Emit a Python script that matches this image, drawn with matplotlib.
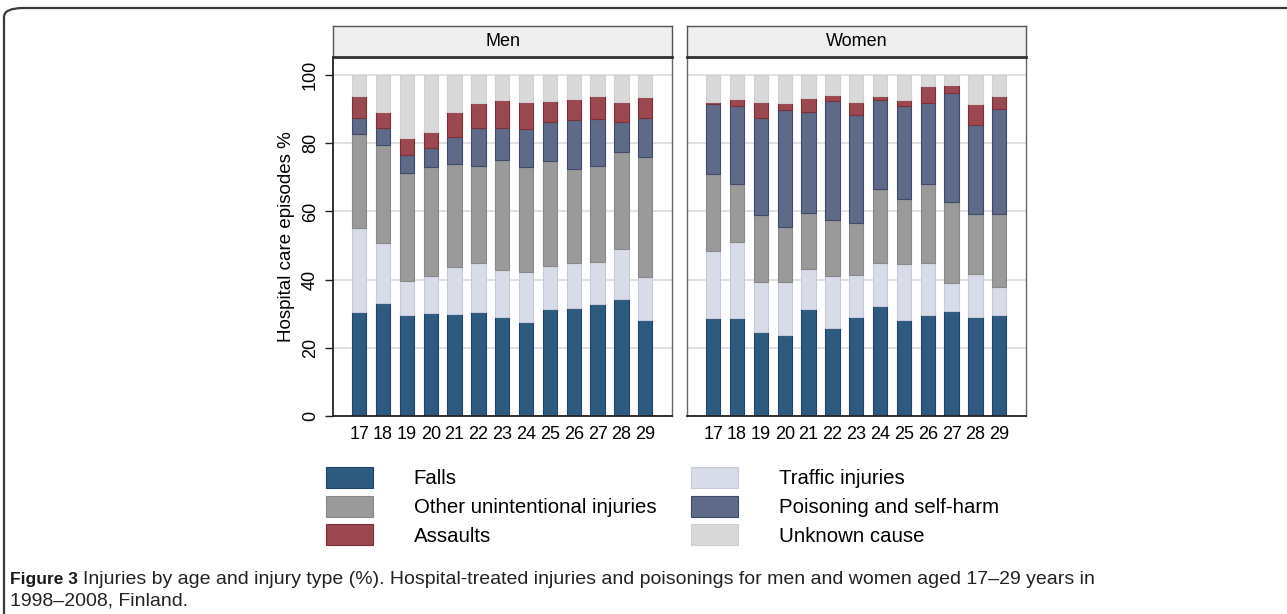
import matplotlib as mpl
mpl.use("Agg")
import matplotlib.pyplot as plt
from matplotlib.patches import FancyBboxPatch, Patch
from matplotlib import font_manager
import numpy as np

ages = list(range(17, 30))
categories = ["Falls", "Traffic injuries", "Other unintentional injuries",
              "Poisoning and self-harm", "Assaults", "Unknown cause"]

# percentages per age, stacked bottom to top (unknown = rest up to 100)
men_falls = [30.6, 33.0, 29.5, 30.2, 29.8, 30.6, 29.1, 27.5, 31.4, 31.7, 32.8, 34.2, 28.3]
men_traffic = [24.6, 17.8, 10.1, 11.0, 13.8, 14.3, 13.7, 14.6, 12.6, 13.2, 12.4, 14.7, 12.4]
men_other = [27.6, 28.7, 31.6, 31.9, 30.2, 28.5, 32.2, 31.0, 30.9, 27.5, 28.2, 28.6, 35.4]
men_poison = [4.5, 4.9, 5.5, 5.6, 7.9, 11.2, 9.5, 11.2, 11.3, 14.3, 13.6, 8.8, 11.3]
men_assault = [6.7, 4.7, 4.9, 4.7, 7.5, 7.2, 8.1, 7.8, 6.1, 6.3, 6.8, 5.8, 6.1]

women_falls = [28.8, 28.7, 24.6, 23.7, 31.3, 25.8, 29.0, 32.2, 28.2, 29.5, 30.8, 29.0, 29.6]
women_traffic = [19.7, 22.4, 14.8, 15.6, 11.9, 15.3, 12.4, 12.8, 16.3, 15.5, 8.3, 12.7, 8.2]
women_other = [22.6, 16.9, 19.7, 16.2, 16.2, 16.4, 15.1, 21.7, 19.2, 23.1, 23.6, 17.5, 21.5]
women_poison = [20.5, 23.0, 28.3, 34.4, 29.7, 34.8, 31.8, 25.9, 27.3, 23.6, 32.0, 26.1, 30.8]
women_assault = [0.4, 2.0, 4.7, 1.9, 4.1, 2.0, 3.8, 1.2, 1.6, 5.0, 2.5, 6.1, 3.7]

colors = {"Falls": "#2f5a80", "Traffic injuries": "#d8dce8",
          "Other unintentional injuries": "#9a9a9a",
          "Poisoning and self-harm": "#5f6a88", "Assaults": "#9b4850",
          "Unknown cause": "#d9d9d9"}
edges = {"Falls": "#1f4468", "Traffic injuries": "#c6cad8",
         "Other unintentional injuries": "#888888",
         "Poisoning and self-harm": "#3e4a6a", "Assaults": "#7a3038",
         "Unknown cause": "#d0d0d0"}


def series(falls, traffic, other, poison, assault):
    known = np.array(falls) + np.array(traffic) + np.array(other) + np.array(poison) + np.array(assault)
    return [falls, traffic, other, poison, assault, list(100 - known)]


panels = [("Men", series(men_falls, men_traffic, men_other, men_poison, men_assault)),
          ("Women", series(women_falls, women_traffic, women_other, women_poison, women_assault))]

available = {f.name for f in font_manager.fontManager.ttflist}
main_font = "Liberation Sans" if "Liberation Sans" in available else "DejaVu Sans"
plt.rcParams["font.family"] = [main_font, "DejaVu Sans"]

W, H = 1287, 614
fig = plt.figure(figsize=(W / 100, H / 100), dpi=100)

# outer rounded frame (cut off at right and bottom)
frame = FancyBboxPatch((4 / W, -0.2), 1.2, 1.2 - 8 / H, transform=fig.transFigure,
                       boxstyle="round,pad=0,rounding_size=0.015", fill=False,
                       edgecolor="#3a3a3a", linewidth=1.6)
fig.patches.append(frame)

lefts = [333, 687]
right_w = 339
top, bottom = 57, 416
strip_top = 26

for i, (name, data) in enumerate(panels):
    x0 = lefts[i]
    ax = fig.add_axes([x0 / W, 1 - bottom / H, right_w / W, (bottom - top) / H])
    base = np.zeros(len(ages))
    for cat, vals in zip(categories, data):
        ax.bar(ages, vals, bottom=base, width=0.6, color=colors[cat],
               edgecolor=edges[cat], linewidth=0.8, zorder=2)
        base += np.array(vals)
    ax.set_xlim(15.9, 30.12)
    ax.set_ylim(0, 105.3)
    ax.set_yticks([0, 20, 40, 60, 80, 100])
    ax.yaxis.grid(True, color="#dedede", linewidth=1.3, zorder=0)
    ax.set_axisbelow(True)
    ax.set_xticks(ages)
    ax.set_xticklabels([str(a) for a in ages], fontsize=13)
    ax.tick_params(axis="x", length=0, pad=7)
    for s in ["top", "right", "left"]:
        ax.spines[s].set_color("#666666")
        ax.spines[s].set_linewidth(1.0)
    ax.spines["bottom"].set_color("#222222")
    ax.spines["bottom"].set_linewidth(1.3)
    if i == 0:
        ax.spines["left"].set_color("#222222")
        ax.spines["left"].set_linewidth(1.3)
        ax.tick_params(axis="y", length=6, width=1, color="#222222", pad=4)
        for lbl in ax.get_yticklabels():
            lbl.set_rotation(90)
            lbl.set_va("center")
            lbl.set_fontsize(13)
        ax.set_ylabel("Hospital care episodes %", fontsize=13.5, labelpad=5)
    else:
        ax.tick_params(axis="y", length=0, labelleft=False)

    # panel header strip
    sax = fig.add_axes([x0 / W, 1 - top / H, right_w / W, (top - strip_top) / H])
    sax.set_facecolor("#efefef")
    sax.set_xticks([])
    sax.set_yticks([])
    for s in ["top", "right", "left"]:
        sax.spines[s].set_color("#555555")
        sax.spines[s].set_linewidth(1.0)
    sax.spines["bottom"].set_color("#333333")
    sax.spines["bottom"].set_linewidth(2.0)
    sax.text(0.5, 0.5, name, ha="center", va="center", fontsize=13, transform=sax.transAxes)

# legend, filled column by column
order = ["Falls", "Other unintentional injuries", "Assaults",
         "Traffic injuries", "Poisoning and self-harm", "Unknown cause"]
handles = [Patch(facecolor=colors[c], edgecolor=edges[c], linewidth=0.8, label=c) for c in order]
fig.legend(handles=handles, ncol=2, loc="upper left", bbox_to_anchor=(326 / W, 1 - 467 / H),
           frameon=False, fontsize=14.7, handlelength=2.3, handleheight=1.2,
           handletextpad=2.0, labelspacing=0.36, columnspacing=1.7, borderpad=0, borderaxespad=0)

# caption
cap1 = fig.text(10 / W, 1 - 584 / H, "Figure 3", fontsize=12.5, fontweight="bold",
                color="#1a1a1a")
fig.canvas.draw()
bb = cap1.get_window_extent(renderer=fig.canvas.get_renderer())
fig.text((bb.x1 + 5) / W, 1 - 584 / H,
         "Injuries by age and injury type (%). Hospital-treated injuries and poisonings "
         "for men and women aged 17\u201329 years in",
         fontsize=14, color="#222222")
fig.text(10 / W, 1 - 606 / H, "1998\u20132008, Finland.", fontsize=14, color="#222222")

fig.savefig("out.png", dpi=100)
